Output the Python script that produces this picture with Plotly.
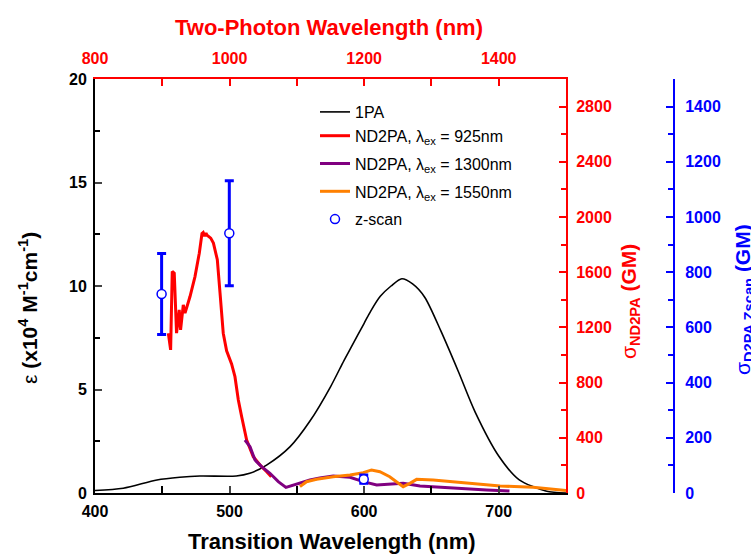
import plotly.graph_objects as go

# ---------------- data ----------------
lam_1pa = [400, 421, 446, 463, 478, 505, 515, 527.5, 545, 560, 575, 585, 590, 600, 605, 612, 620, 628, 636, 645, 657, 670, 682.5, 700, 715, 735, 750]
eps_1pa = [0.12, 0.23, 0.63, 0.76, 0.82, 0.82, 0.95, 1.35, 2.24, 3.5, 5.13, 6.4, 7.0, 8.2, 8.8, 9.5, 10.0, 10.35, 10.1, 9.46, 7.83, 5.87, 3.91, 1.79, 0.65, 0.1, 0.0]

lam_925 = [454.5, 456.2, 457.4, 458.9, 460.6, 462.6, 463.6, 465.6, 466.9, 470.6, 474.3, 477.5, 479.5, 480.4, 481.5, 482.5, 483, 486, 488, 490.9,
           492.9, 495.3, 497.8, 501.5, 504, 506.5, 509, 512.7, 517.6, 522.6, 527.6, 531]
sig_925 = [1158, 1037, 1605, 1593, 1158, 1327, 1182, 1363, 1303, 1424, 1568, 1738, 1880, 1888, 1860, 1885, 1871, 1847, 1811, 1690,
           1450, 1158, 1030, 935, 843, 674, 553, 384, 263, 203, 154, 118]

lam_1300 = [511.4, 515.2, 518.9, 523.8, 530, 536.2, 541.9, 547.3, 552.3, 559.7, 567, 577, 589.5, 599.3, 609.3, 619.2, 629, 641.5, 656.3, 676, 691, 708]
sig_1300 = [384, 336, 239, 191, 143, 82, 41, 58, 75, 94, 108, 123, 114, 82, 58, 65, 70, 51, 41, 27, 22, 14]

lam_1550 = [552.3, 557.2, 564.7, 577, 589.5, 599.3, 605.5, 611.7, 619, 625, 629, 634, 639, 651.3, 663.7, 681, 701, 725.6, 745.5, 750]
sig_1550 = [46, 82, 99, 118, 130, 147, 167, 154, 118, 75, 46, 70, 99, 94, 82, 65, 51, 41, 22, 18]

lam_z = [449.5, 499.8, 599.7]
sig_z = [721, 941, 50]
err_z = [147, 190, 15]

x_ticks = [400, 500, 600, 700]
top_ticks = [800, 1000, 1200, 1400]
left_ticks = [0, 5, 10, 15, 20]
red_ticks = [0, 400, 800, 1200, 1600, 2000, 2400, 2800]
blue_ticks = [0, 200, 400, 600, 800, 1000, 1200, 1400]

# ---------------- layout helpers ----------------
W, H = 751, 554
L, R, T, B = 95, 674, 79, 493
PLOT_R = 566
def fx(px):
    return (px - L) / (R - L)
def fy(py):
    return (B - py) / (B - T)

FONT = "Liberation Sans, Arial, sans-serif"
RED = "#FF0000"
BLUE = "#0000FF"
PURPLE = "#800080"
ORANGE = "#FF8000"

fig = go.Figure()
fig.add_trace(go.Scatter(x=lam_1pa, y=eps_1pa, mode="lines", name="1PA",
                         line=dict(color="black", width=1.6, shape="spline", smoothing=0.8),
                         legendgroup="g1", xaxis="x", yaxis="y"))
fig.add_trace(go.Scatter(x=lam_925, y=sig_925, mode="lines", name="ND2PA, λ<sub>ex</sub> = 925nm",
                         line=dict(color=RED, width=3), legendgroup="g1", xaxis="x", yaxis="y2"))
fig.add_trace(go.Scatter(x=lam_1300, y=sig_1300, mode="lines", name="ND2PA, λ<sub>ex</sub> = 1300nm",
                         line=dict(color=PURPLE, width=3), legendgroup="g2", xaxis="x", yaxis="y2"))
fig.add_trace(go.Scatter(x=lam_1550, y=sig_1550, mode="lines", name="ND2PA, λ<sub>ex</sub> = 1550nm",
                         line=dict(color=ORANGE, width=3), legendgroup="g3", xaxis="x", yaxis="y2"))
fig.add_trace(go.Scatter(x=lam_z, y=sig_z, mode="markers", name="z-scan",
                         marker=dict(symbol="circle", size=9, color="white", line=dict(color=BLUE, width=1.5)),
                         error_y=dict(type="data", array=err_z, color=BLUE, thickness=3, width=4.5),
                         legendgroup="g4", xaxis="x", yaxis="y3"))
# empty trace so that the top (two-photon wavelength) axis is drawn
fig.add_trace(go.Scatter(x=top_ticks, y=[None] * len(top_ticks), mode="lines", showlegend=False,
                         hoverinfo="skip", xaxis="x2", yaxis="y"))

dom = [0, fx(PLOT_R)]
tickfont = dict(family=FONT, size=16, weight="bold")

fig.update_layout(
    width=W, height=H,
    margin=dict(l=L, r=W - R, t=T, b=H - B),
    paper_bgcolor="white", plot_bgcolor="white",
    font=dict(family=FONT, color="black"),
    xaxis=dict(domain=dom, range=[400, 750], tickvals=x_ticks, ticks="inside", ticklen=7, tickwidth=1.5,
               minor=dict(dtick=50, ticks="inside", ticklen=7, tickwidth=1.5, tickcolor="black"),
               showline=True, linecolor="black", linewidth=2, showgrid=False, zeroline=False,
               tickfont=dict(tickfont, color="black"), ticklabelstandoff=3),
    xaxis2=dict(domain=dom, overlaying="x", side="top", anchor="y", range=[800, 1500], tickvals=top_ticks,
                ticks="inside", ticklen=7, tickwidth=1.5, tickcolor=RED,
                minor=dict(dtick=100, ticks="inside", ticklen=7, tickwidth=1.5, tickcolor=RED),
                showline=True, linecolor=RED, linewidth=2, showgrid=False, zeroline=False,
                tickfont=dict(tickfont, color=RED), ticklabelstandoff=7),
    yaxis=dict(range=[0, 20], tickvals=left_ticks, ticks="inside", ticklen=7, tickwidth=1.5,
               minor=dict(dtick=2.5, ticks="inside", ticklen=5, tickwidth=1.5, tickcolor="black"),
               showline=True, linecolor="black", linewidth=2, showgrid=False, zeroline=False,
               tickfont=dict(tickfont, color="black"), ticklabelstandoff=3),
    yaxis2=dict(overlaying="y", side="right", anchor="x", range=[0, 3000], tickvals=red_ticks,
                ticks="inside", ticklen=7, tickwidth=1.5, tickcolor=RED,
                minor=dict(dtick=200, ticks="inside", ticklen=5, tickwidth=1.5, tickcolor=RED),
                showline=True, linecolor=RED, linewidth=2, showgrid=False, zeroline=False,
                tickfont=dict(tickfont, color=RED), ticklabelstandoff=5),
    yaxis3=dict(overlaying="y", side="right", anchor="free", position=1.0, range=[0, 1500], tickvals=blue_ticks,
                ticks="inside", ticklen=7, tickwidth=1.5, tickcolor=BLUE,
                minor=dict(dtick=100, ticks="inside", ticklen=5, tickwidth=1.5, tickcolor=BLUE),
                showline=True, linecolor=BLUE, linewidth=2, showgrid=False, zeroline=False,
                tickfont=dict(tickfont, color=BLUE), ticklabelstandoff=7),
    legend=dict(x=fx(315), y=fy(95), xanchor="left", yanchor="top", bgcolor="rgba(0,0,0,0)",
                font=dict(family=FONT, size=16, color="black"), traceorder="grouped", tracegroupgap=4),
    showlegend=True,
)

ann = [
    dict(text="<b>Transition Wavelength (nm)</b>", x=fx(332), y=fy(541), font=dict(size=22, color="black"), textangle=0),
    dict(text="<b>Two-Photon Wavelength (nm)</b>", x=fx(329), y=fy(27), font=dict(size=22, color=RED), textangle=0),
    dict(text="ε <b>(x10<sup>4</sup> M<sup>-1</sup>cm<sup>-1</sup>)</b>", x=fx(28), y=fy(308), font=dict(size=21, color="black"), textangle=-90),
    dict(text="σ<sub><b>ND2PA</b></sub><b> (GM)</b>", x=fx(630), y=fy(302), font=dict(size=21, color=RED), textangle=-90),
    dict(text="σ<sub><b>D2PA Zscan</b></sub><b> (GM)</b>", x=fx(744), y=fy(300), font=dict(size=21, color=BLUE), textangle=-90),
]
for a in ann:
    a["font"]["family"] = FONT
    fig.add_annotation(xref="paper", yref="paper", showarrow=False, xanchor="center", yanchor="middle", **a)

fig.write_html("out.html", config={"displayModeBar": False},
               post_script="document.body.style.margin='0';document.body.style.overflow='hidden';")
